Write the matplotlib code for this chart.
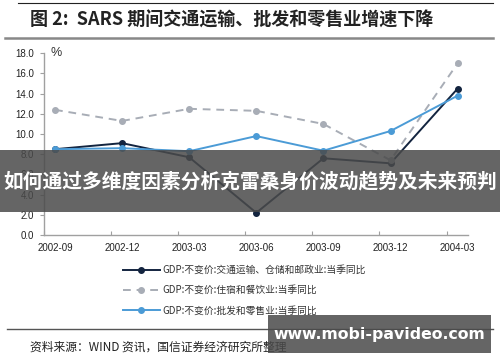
import matplotlib
matplotlib.use("Agg")
import matplotlib.pyplot as plt
from matplotlib.lines import Line2D
from matplotlib.patches import Rectangle
import numpy as np

categories = ["2002-09", "2002-12", "2003-03", "2003-06", "2003-09", "2003-12", "2004-03"]
transport = [8.5, 9.1, 7.7, 2.2, 7.6, 7.1, 14.5]
catering = [12.4, 11.3, 12.5, 12.3, 11.0, 7.4, 17.0]
retail = [8.5, 8.6, 8.3, 9.8, 8.35, 10.3, 13.8]
series_names = ["GDP:不变价:交通运输、仓储和邮政业:当季同比",
                "GDP:不变价:住宿和餐饮业:当季同比",
                "GDP:不变价:批发和零售业:当季同比"]
yticks = [0, 2, 4, 6, 8, 10, 12, 14, 16, 18]

CJK = ['Noto Sans CJK SC', 'DejaVu Sans']
plt.rcParams['font.family'] = ['Liberation Sans', 'Noto Sans CJK SC', 'DejaVu Sans']

W, H = 500, 362
fig = plt.figure(figsize=(W/100, H/100), dpi=100)
fig.patch.set_facecolor('white')

def fx(x): return x / W
def fy(y): return 1 - y / H

ax = fig.add_axes([fx(44), fy(235), fx(468) - fx(44), fy(53.3) - fy(235)])
x = np.arange(len(categories))
c1, c2, c3 = '#13243f', '#a8adb6', '#4b9bd6'
ax.plot(x, transport, color=c1, lw=1.4, marker='o', ms=4, label=series_names[0])
ax.plot(x, catering, color=c2, lw=1.4, ls=(0, (4, 3)), marker='o', ms=4, label=series_names[1])
ax.plot(x, retail, color=c3, lw=1.4, marker='o', ms=4, label=series_names[2])

off = 0.164
ax.set_xlim(-off, 6.155)
ax.set_ylim(0, 18)
ax.set_xticks(x - off)
ax.set_xticklabels([])
ax.set_xticks(x, minor=True)
ax.set_xticklabels(categories, minor=True, fontsize=7, color='#222222')
ax.tick_params(axis='x', which='minor', length=0, pad=6)
ax.tick_params(axis='x', which='major', length=3, color='#a0a0a0', direction='in')
ax.set_yticks(yticks)
ax.set_yticklabels([f"{v:.1f}" for v in yticks], fontsize=7, color='#222222')
ax.tick_params(axis='y', length=3, color='#a0a0a0', direction='out', pad=4)
for s in ['top', 'right']:
    ax.spines[s].set_visible(False)
for s in ['left', 'bottom']:
    ax.spines[s].set_color('#a0a0a0')
    ax.spines[s].set_linewidth(1.0)
ax.text(0.015, 1.0, '%', transform=ax.transAxes, fontsize=9, color='#333333', va='center', ha='left')

leg = fig.legend(loc='upper left', bbox_to_anchor=(fx(123), fy(265)), frameon=False,
                 prop={'family': CJK, 'size': 7}, handlelength=3.8, labelspacing=1.05,
                 handletextpad=0.25, borderaxespad=0, borderpad=0)
for t in leg.get_texts():
    t.set_color('#333333')

# Decorative lines
fig.add_artist(Line2D([fx(18), fx(493)], [fy(3), fy(3)], color='#222222', lw=0.8))
fig.add_artist(Line2D([fx(5), fx(493)], [fy(37.5), fy(37.5)], color='#888888', lw=1.8))
fig.add_artist(Line2D([fx(7), fx(493)], [fy(329), fy(329)], color='#555555', lw=1.0))

fig.text(fx(30), fy(20), '图 2:  SARS 期间交通运输、批发和零售业增速下降', family=CJK,
         fontsize=13, fontweight='bold', color='#222222', va='center', ha='left')
fig.text(fx(30), fy(347), '资料来源：WIND 资讯，国信证券经济研究所整理', family=CJK,
         fontsize=8.5, color='#222222', va='center', ha='left')

# Overlay banner
fig.add_artist(Rectangle((0, fy(212)), 1, fy(150) - fy(212), transform=fig.transFigure,
                         facecolor='#4a4a4a', alpha=0.85, edgecolor='none', zorder=10))
fig.text(0.5, fy(181.5), '如何通过多维度因素分析克雷桑身价波动趋势及未来预判', family=CJK,
         fontsize=14.2, fontweight='bold', color='white', va='center', ha='center', zorder=11)

# Watermark box
fig.add_artist(Rectangle((fx(268), fy(353)), fx(491) - fx(268), fy(315) - fy(353),
                         transform=fig.transFigure, facecolor='#4a4a4a', alpha=0.85,
                         edgecolor='none', zorder=10))
fig.text(fx(379), fy(334), 'www.mobi-pavideo.com', family=['DejaVu Sans'],
         fontsize=11.3, fontweight='bold', color='white', va='center', ha='center', zorder=11)

fig.savefig('out.png', dpi=100)
